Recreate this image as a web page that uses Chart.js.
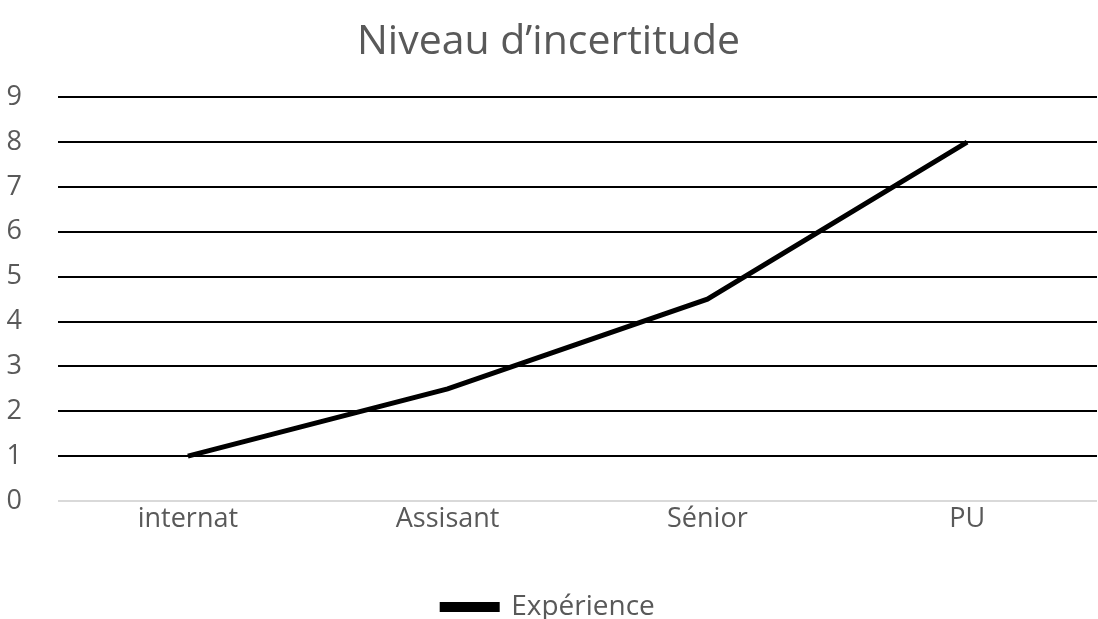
<!DOCTYPE html>
<html>
<head>
<meta charset="utf-8">
<script src="https://cdn.jsdelivr.net/npm/chart.js@4/dist/chart.umd.min.js"></script>
<style>
  html, body { margin: 0; padding: 0; background: #fff; }
  #wrap { width: 1098px; height: 619px; }
</style>
</head>
<body>
<div id="wrap"><canvas id="myChart" width="1098" height="619"></canvas></div>
<script>
const categories = ["internat", "Assisant", "Sénior", "PU"];
const experience = [1, 2.5, 4.5, 8];
const yTicks = [0, 1, 2, 3, 4, 5, 6, 7, 8, 9];

const ctx = document.getElementById("myChart").getContext("2d");
const myChart = new Chart(ctx, {
  type: "line",
  data: {
    labels: categories,
    datasets: [
      {
        label: "Expérience",
        data: experience,
        borderColor: "#000000",
        backgroundColor: "#000000",
        borderWidth: 5,
        pointRadius: 0,
        tension: 0,
      },
    ],
  },
  options: {
    responsive: false,
    animation: false,
    layout: { autoPadding: false, padding: { left: 0, right: 1, top: 18, bottom: -12 } },
    font: { family: "'Open Sans', sans-serif" },
    plugins: {
      title: {
        display: true,
        text: "Niveau d’incertitude",
        color: "#595959",
        font: { family: "'Open Sans', sans-serif", size: 41, weight: "normal" },
        padding: { top: 0, bottom: 30 },
      },
      legend: {
        position: "bottom",
        labels: {
          color: "#595959",
          font: { family: "'Open Sans', sans-serif", size: 28, lineHeight: 1 },
          boxWidth: 55,
          boxHeight: 5,
          padding: 0,
        },
      },
      tooltip: { enabled: false },
    },
    scales: {
      x: {
        offset: true,
        grid: { display: false },
        border: { display: false },
        afterFit: (s) => { s.height = 92; },
        ticks: {
          color: "#595959",
          font: { family: "'Open Sans', sans-serif", size: 27 },
          padding: -6,
        },
      },
      y: {
        min: 0,
        max: 9,
        afterBuildTicks: (axis) => {
          axis.ticks = yTicks.map((v) => ({ value: v }));
        },
        afterFit: (s) => { s.width = 58; },
        grid: {
          color: (c) => (c.tick && c.tick.value === 0 ? "#d9d9d9" : "#000000"),
          lineWidth: 2,
          drawTicks: false,
        },
        border: { display: false },
        ticks: {
          color: "#595959",
          font: { family: "'Open Sans', sans-serif", size: 27 },
          padding: 36,
        },
      },
    },
  },
});
</script>
</body>
</html>
